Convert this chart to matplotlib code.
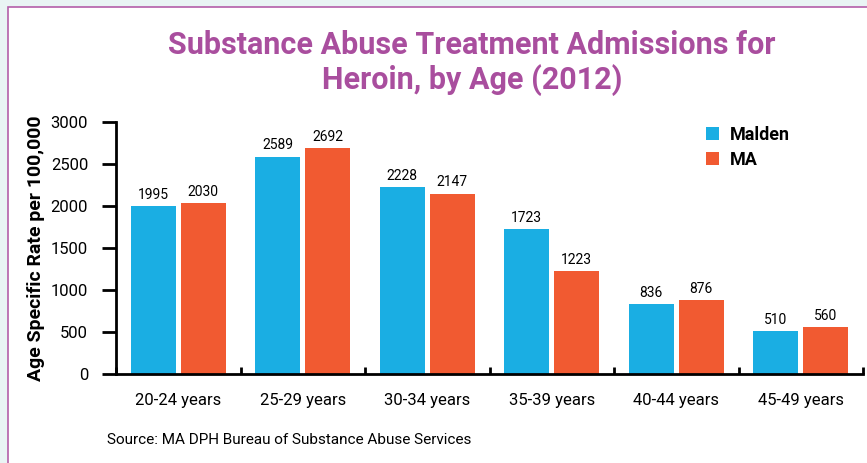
import matplotlib.pyplot as plt
from matplotlib.patches import Rectangle
import numpy as np

age_groups = ["20-24 years", "25-29 years", "30-34 years",
              "35-39 years", "40-44 years", "45-49 years"]
malden = [1995, 2589, 2228, 1723, 836, 510]
ma = [2030, 2692, 2147, 1223, 876, 560]

BLUE = "#1AAEE3"
ORANGE = "#F15A31"
PURPLE = "#A94E9E"

plt.rcParams["font.family"] = ["Roboto", "DejaVu Sans"]

fig = plt.figure(figsize=(8.67, 4.63), dpi=100)
fig.patch.set_facecolor("#E9F4F4")
# white panel with magenta border (only top/left edges inside the picture)
fig.patches.append(Rectangle((8 / 867, -0.1), 1.2, 1.1 - 7 / 463, transform=fig.transFigure,
                             facecolor="white", edgecolor="#B45FA9", linewidth=1.2,
                             zorder=-1))

ax = fig.add_axes([116 / 867, 1 - 374 / 463, (863 - 116) / 867, (374 - 122) / 463])
ax.set_facecolor("none")

x = np.arange(len(age_groups))
w = 0.36
b1 = ax.bar(x - 0.2, malden, w, color=BLUE, label="Malden", zorder=2)
b2 = ax.bar(x + 0.2, ma, w, color=ORANGE, label="MA", zorder=2)

for bars in (b1, b2):
    for r in bars:
        ax.annotate(str(int(r.get_height())), (r.get_x() + r.get_width() / 2, r.get_height()),
                    xytext=(0, 3), textcoords="offset points", ha="center", va="bottom",
                    fontsize=10)

ax.set_xlim(-0.5, len(age_groups) - 0.5)
ax.set_ylim(0, 3000)
ax.set_yticks(range(0, 3001, 500))
ax.tick_params(axis="y", direction="out", length=10, width=2, labelsize=12, pad=10)
ax.set_xticks(x)
ax.set_xticklabels(age_groups, fontsize=12)
ax.tick_params(axis="x", length=0, pad=14)
ax.set_xticks(np.arange(-0.5, len(age_groups)), minor=True)
ax.tick_params(axis="x", which="minor", direction="in", length=5, width=2)

for s in ("top", "right"):
    ax.spines[s].set_visible(False)
for s in ("left", "bottom"):
    ax.spines[s].set_linewidth(2)

ax.set_ylabel("Age Specific Rate per 100,000", fontsize=14, fontweight="bold", labelpad=4)

leg = ax.legend(loc="upper left", bbox_to_anchor=(0.768, 1.05), frameon=False,
                prop={"size": 13, "weight": "bold"}, handlelength=0.7, handleheight=0.7,
                handletextpad=0.6, labelspacing=0.4)

fig.text(472 / 867, 1 - 63 / 463, "Substance Abuse Treatment Admissions for\nHeroin, by Age (2012)",
         ha="center", va="center", fontsize=22, fontweight="bold", color=PURPLE,
         linespacing=1.2)

fig.text(107 / 867, 1 - 440 / 463, "Source: MA DPH Bureau of Substance Abuse Services",
         ha="left", va="center", fontsize=11)

fig.savefig("out.png", dpi=100)
